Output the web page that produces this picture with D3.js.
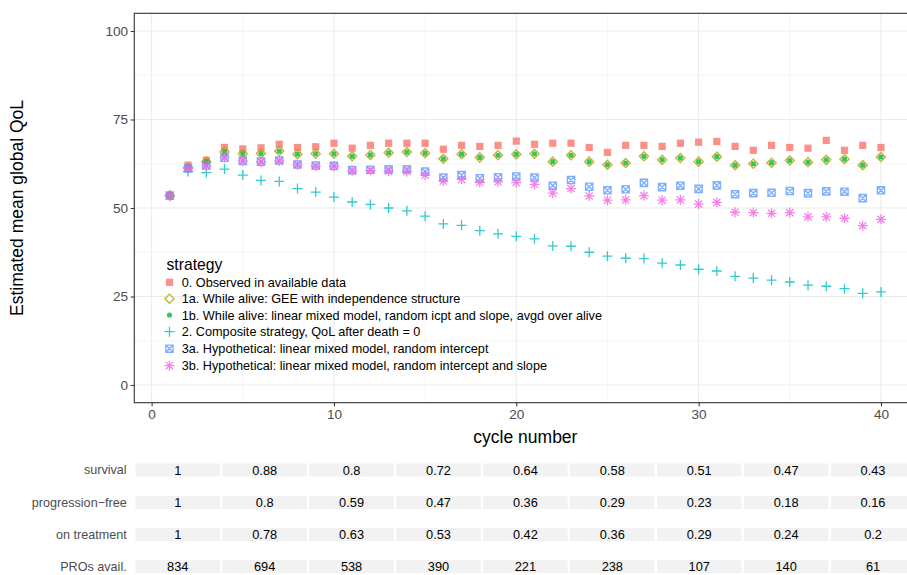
<!DOCTYPE html>
<html><head><meta charset="utf-8">
<script src="https://cdn.jsdelivr.net/npm/d3@7"></script>
<style>
body{margin:0;background:#fff;}
text{font-family:"Liberation Sans",Arial,Helvetica,sans-serif;}
</style></head>
<body><svg id="c" width="907" height="575"></svg>
<script>
const cycles = d3.range(1, 41);
const obs0 = [53.5,62.1,63.5,67.1,66.7,67.0,68.0,67.1,67.3,68.3,66.9,67.7,68.3,68.3,68.3,66.6,67.7,67.4,67.7,68.9,68.0,68.3,68.3,67.1,65.7,67.7,67.7,67.4,68.3,68.6,68.8,67.4,66.3,67.7,67.1,66.9,69.1,66.3,67.7,67.1];
const gee1a = [53.5,61.4,63.1,65.8,65.3,65.4,66.1,65.2,65.3,65.3,64.6,65.0,65.6,65.8,65.5,63.9,65.2,64.3,64.9,65.2,65.3,63.1,64.9,63.1,62.2,62.7,64.6,63.6,64.1,63.1,64.5,62.1,62.5,62.8,63.4,62.9,63.6,63.8,62.1,64.4];
const lmm1b = [53.5,61.4,63.1,65.8,65.3,65.4,66.1,65.2,65.3,65.3,64.6,65.0,65.6,65.8,65.5,63.9,65.2,64.3,64.9,65.2,65.3,63.1,64.9,63.1,62.2,62.7,64.6,63.6,64.1,63.1,64.5,62.1,62.5,62.8,63.4,62.9,63.6,63.8,62.1,64.4];
const comp2 = [53.5,60.3,60.0,61.0,59.3,57.8,57.5,55.5,54.5,53.1,51.7,51.0,50.0,49.2,47.7,45.5,45.1,43.6,42.7,42.0,41.3,39.3,39.2,37.5,36.4,35.8,35.7,34.4,33.9,32.7,32.2,30.7,30.2,29.6,29.1,28.2,27.9,27.2,25.9,26.3];
const hyp3a = [53.5,61.2,62.0,64.2,63.3,63.1,63.4,62.3,62.0,61.9,60.7,60.8,60.9,60.9,60.3,58.6,59.3,58.4,58.7,58.9,58.6,56.3,57.9,56.0,55.0,55.3,57.1,55.9,56.3,55.4,56.4,53.9,54.2,54.3,54.8,54.2,54.7,54.6,52.8,55.0];
const hyp3b = [53.5,61.2,61.9,64.3,63.3,63.0,63.3,62.2,61.8,61.8,60.5,60.6,60.4,60.3,59.3,57.6,58.1,57.2,57.4,57.2,56.7,54.2,55.5,53.4,52.2,52.3,53.5,52.2,52.3,51.1,51.6,48.8,48.7,48.5,48.7,47.5,47.5,47.1,45.0,46.8];

const seriesNames = ["0. Observed in available data","1a. While alive: GEE with independence structure","1b. While alive: linear mixed model, random icpt and slope, avgd over alive","2. Composite strategy, QoL after death = 0","3a. Hypothetical: linear mixed model, random intercept","3b. Hypothetical: linear mixed model, random intercept and slope"];
const seriesColors = ["#F8766D","#B79F00","#00BA38","#00BFC4","#619CFF","#F564E3"];
const seriesShapes = ["square","diamond","dot","plus","squarex","asterisk"];
const seriesValues = [obs0, gee1a, lmm1b, comp2, hyp3a, hyp3b];

const xTicks = [0,10,20,30,40];
const yTicks = [0,25,50,75,100];

const tableRows = ["survival","progression\u2212free","on treatment","PROs avail."];
const tableCols = ["c1","c2","c3","c4","c5","c6","c7","c8","c9"];
const survival = ["1","0.88","0.8","0.72","0.64","0.58","0.51","0.47","0.43"];
const progFree = ["1","0.8","0.59","0.47","0.36","0.29","0.23","0.18","0.16"];
const onTreat = ["1","0.78","0.63","0.53","0.42","0.36","0.29","0.24","0.2"];
const prosAvail = ["834","694","538","390","221","238","107","140","61"];
const tableValues = [survival, progFree, onTreat, prosAvail];

const svg = d3.select("#c");
const P = {l:134.3, r:916.5, t:13.3, b:402.7};
const x = d3.scaleLinear().domain([-0.95, 41.95]).range([P.l, P.r]);
const y = d3.scaleLinear().domain([-5, 105]).range([P.b, P.t]);

// grid
const g = svg.append("g");
[12.5,37.5,62.5,87.5].forEach(v=>g.append("line").attr("x1",P.l).attr("x2",P.r).attr("y1",y(v)).attr("y2",y(v)).attr("stroke","#EBEBEB").attr("stroke-width",0.55));
[5,15,25,35].forEach(v=>g.append("line").attr("y1",P.t).attr("y2",P.b).attr("x1",x(v)).attr("x2",x(v)).attr("stroke","#EBEBEB").attr("stroke-width",0.55));
yTicks.forEach(v=>g.append("line").attr("x1",P.l).attr("x2",P.r).attr("y1",y(v)).attr("y2",y(v)).attr("stroke","#EBEBEB").attr("stroke-width",1.1));
xTicks.forEach(v=>g.append("line").attr("y1",P.t).attr("y2",P.b).attr("x1",x(v)).attr("x2",x(v)).attr("stroke","#EBEBEB").attr("stroke-width",1.1));

// axes
const yAxis = d3.axisLeft(y).tickValues(yTicks).tickSize(3.6).tickPadding(2.6);
const xAxis = d3.axisBottom(x).tickValues(xTicks).tickSize(3.6).tickPadding(2.6);
const ya = svg.append("g").attr("transform",`translate(${P.l},0)`).call(yAxis);
const xa = svg.append("g").attr("transform",`translate(0,${P.b})`).call(xAxis);
[ya,xa].forEach(a=>{
  a.select(".domain").remove();
  a.selectAll(".tick line").attr("stroke","#333333").attr("stroke-width",1.05);
  a.selectAll(".tick text").attr("fill","#4D4D4D").style("font-size","13.6px").style("font-family",'"Liberation Sans",Arial,sans-serif');
});

// shapes
function drawShape(sel, shape, color){
  if(shape==="square"){
    sel.append("rect").attr("x",-3.6).attr("y",-3.6).attr("width",7.2).attr("height",7.2).attr("fill",color);
  } else if(shape==="diamond"){
    sel.append("path").attr("d","M0,-4.6L4.6,0L0,4.6L-4.6,0Z").attr("fill","none").attr("stroke",color).attr("stroke-width",1.3);
  } else if(shape==="dot"){
    sel.append("circle").attr("r",2.6).attr("fill",color);
  } else if(shape==="plus"){
    sel.append("path").attr("d","M-5,0H5M0,-5V5").attr("stroke",color).attr("stroke-width",1.3);
  } else if(shape==="squarex"){
    sel.append("path").attr("d","M-3.6,-3.6H3.6V3.6H-3.6ZM-3.6,-3.6L3.6,3.6M3.6,-3.6L-3.6,3.6").attr("fill","none").attr("stroke",color).attr("stroke-width",1.4);
  } else if(shape==="asterisk"){
    sel.append("path").attr("d","M-5,0H5M0,-5V5M-3.6,-3.6L3.6,3.6M3.6,-3.6L-3.6,3.6").attr("stroke",color).attr("stroke-width",1.3);
  }
}

const pts = svg.append("g");
seriesValues.forEach((vals,si)=>{
  const gs = pts.append("g").attr("opacity",0.8);
  vals.forEach((v,i)=>{
    const p = gs.append("g").attr("transform",`translate(${x(cycles[i])},${y(v)})`);
    drawShape(p, seriesShapes[si], seriesColors[si]);
  });
});

// panel border
svg.append("rect").attr("x",P.l).attr("y",P.t).attr("width",P.r-P.l).attr("height",P.b-P.t).attr("fill","none").attr("stroke","#333333").attr("stroke-width",1.1);

// axis titles
svg.append("text").attr("x",(P.l+P.r)/2).attr("y",443).attr("text-anchor","middle").style("font-size","17.5px").attr("fill","#000").text("cycle number");
svg.append("text").attr("transform",`translate(23,${(P.t+P.b)/2}) rotate(-90)`).attr("text-anchor","middle").style("font-size","17.5px").attr("fill","#000").text("Estimated mean global QoL");

// legend
const lg = svg.append("g");
lg.append("text").attr("x",166.5).attr("y",269.5).style("font-size","15.7px").text("strategy");
const legY = [282.3,298.7,315,331.7,348.7,365.7];
seriesNames.forEach((n,i)=>{
  const k = lg.append("g").attr("transform",`translate(169.5,${legY[i]})`).attr("opacity",0.8);
  drawShape(k, seriesShapes[i], seriesColors[i]);
  lg.append("text").attr("x",181.7).attr("y",legY[i]+4.5).style("font-size","12.7px").attr("fill","#000").text(n);
});

// table
const bx = d3.scaleBand().domain(tableCols).range([P.l, P.r]).paddingInner(0.028).paddingOuter(0.014);
const rowY = [470, 502.5, 534.5, 566.5];
const tg = svg.append("g");
tableRows.forEach((r,ri)=>{
  tg.append("text").attr("x",126.7).attr("y",rowY[ri]+4.4).attr("text-anchor","end").attr("fill","#4D4D4D").style("font-size","12.6px").text(r);
  tableCols.forEach((c,ci)=>{
    tg.append("rect").attr("x",bx(c)).attr("y",rowY[ri]-6.5).attr("width",bx.bandwidth()).attr("height",13).attr("fill","#F2F2F2");
    tg.append("text").attr("x",bx(c)+bx.bandwidth()/2).attr("y",rowY[ri]+4.5).attr("text-anchor","middle").attr("fill","#000").style("font-size","12.8px").text(tableValues[ri][ci]);
  });
});
</script></body></html>
